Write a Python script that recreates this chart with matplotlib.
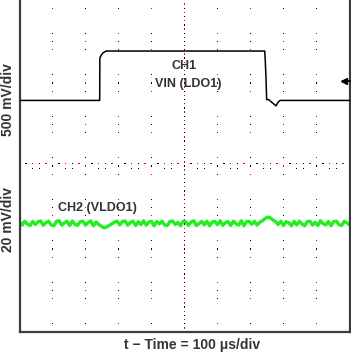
import numpy as np
import matplotlib
matplotlib.use("Agg")
import matplotlib.pyplot as plt

plt.rcParams['font.family'] = ['Liberation Sans', 'DejaVu Sans']

# scope settings: 10 x 8 divisions
t_per_div = 100.0        # us/div
ch1_per_div = 500.0      # mV/div
ch2_per_div = 20.0       # mV/div

# CH1 (VIN) trace, time in us, level in divisions on screen
ch1_t = [0, 243, 243.5, 247, 252, 262, 743, 745, 747, 749, 755, 765, 770, 777, 785, 790, 1000]
ch1_div = [1.58, 1.58, 2.60, 2.66, 2.72, 2.77, 2.77, 2.50, 2.10, 1.60, 1.60, 1.53, 1.50, 1.45, 1.55, 1.58, 1.58]

# CH2 (VLDO1) ripple in mV around its screen level, one sample every 8 us
ch2_level = -1.38
ch2_step = 8
ch2_mv = [0.8, -0.9, 1.0, -0.4, -1.1, 0.9, -0.6, 0.7, 1.1, -1.0,
          0.3, 1.0, -0.8, -1.2, 0.9, 1.2, -0.9, 0.2, 1.0, -1.1,
          1.1, -0.5, -1.0, 0.8, 1.0, -0.9, 0.4, 1.1, -1.2, 0.6,
          -0.6, -1.4, -2.2, -1.8, -1.0, -0.3, 0.6, 1.0, -0.8, 0.9,
          1.1, -0.9, 0.4, 1.0, -1.1, 0.8, -0.7, 1.2, -0.9, 0.6,
          0.9, -1.2, 0.8, -0.3, 1.0, -0.9, -1.1, 0.9, 1.1, -0.6,
          0.4, -1.2, 1.0, 0.7, -1.0, 0.6, 1.2, -1.1, -0.2, 0.9,
          -0.8, 1.0, -1.2, 0.6, 0.9, -0.7, 1.2, -1.0, 0.3, 0.8,
          -1.1, 1.0, -0.2, -0.9, 1.2, -1.2, 0.8, 0.9, -0.5, 1.0,
          -0.9, 0.5, 1.2, 2.2, 3.0, 2.6, 1.6, 0.8, -0.6, 1.0,
          -1.1, 0.8, 0.3, -1.2, 0.9, -0.8, 1.0, -0.4, -1.2, 0.8,
          1.0, -0.9, 0.5, -1.1, 1.2, -0.2, -0.8, 0.9, -1.2, 0.8,
          1.0, -0.6, -1.1, 0.9, 0.3, -0.8]

ch1_marker = 2.05   # channel marker on right edge (div)

fig = plt.figure(figsize=(3.51, 3.54), dpi=100)
ax = fig.add_axes([19.5 / 351, 22 / 354, 330 / 351, 332 / 354])
ax.set_xlim(0, 10)
ax.set_ylim(-4, 4)
ax.set_xticks([])
ax.set_yticks([])
for s in ['left', 'bottom', 'right']:
    ax.spines[s].set_color('#3c3c3c')
    ax.spines[s].set_linewidth(1.6)
ax.spines['top'].set_visible(False)

# graticule dots
gx, gy, gc = [], [], []
n = 0
for k in range(1, 10):
    for j in range(-4, 5):
        for dy in (-0.2, 0.0, 0.2):
            y = j + dy
            if abs(y) >= 3.95 or (dy == 0 and abs(j) == 4):
                continue
            gx.append(k); gy.append(y)
            gc.append('#ff0000' if n % 3 == 1 else 'black'); n += 1
# center vertical line
for y in np.arange(-3.9, 3.95, 0.1):
    gx.append(5); gy.append(y)
    gc.append('#ff0000' if n % 2 else 'black'); n += 1
# center horizontal line
for k in range(10):
    for f in (0.2, 0.4, 0.6, 0.8):
        dys = (-0.06, 0.06) if f in (0.4, 0.6) else (0.06,)
        for dy in dys:
            gx.append(k + f); gy.append(dy)
            gc.append('#ff0000' if n % 3 == 0 else 'black'); n += 1
ax.scatter(gx, gy, s=1.0, c=gc, marker='s', linewidths=0, zorder=1)

# traces
t1 = np.array(ch1_t) / t_per_div
ax.plot(t1, ch1_div, color='black', lw=1.1, zorder=3)

t2 = np.arange(len(ch2_mv)) * ch2_step / t_per_div
y2 = ch2_level + np.array(ch2_mv) / ch2_per_div
ax.plot(t2, y2, color='#22ee22', lw=2.4, zorder=2)

# channel marker
ax.plot([9.8, 10], [ch1_marker, ch1_marker], color='black', lw=1.2, zorder=3, clip_on=False)
ax.plot([9.82], [ch1_marker], marker='<', ms=5, color='black', zorder=3)

tc = '#333333'
ax.text(5.0, 2.41, 'CH1', ha='center', va='center', fontsize=9, fontweight='bold', color=tc)
ax.text(5.1, 1.98, 'VIN (LDO1)', ha='center', va='center', fontsize=9, fontweight='bold', color=tc)
ax.text(1.18, -1.01, 'CH2 (VLDO1)', ha='left', va='center', fontsize=9, fontweight='bold', color=tc)

fig.text(8 / 351, 1 - 100 / 354, '500 mV/div', rotation=90, ha='center', va='center',
         fontsize=10, fontweight='bold', color=tc)
fig.text(8 / 351, 1 - 219 / 354, '20 mV/div', rotation=90, ha='center', va='center',
         fontsize=10, fontweight='bold', color=tc)
fig.text(192 / 351, 1 - 345 / 354, 't \u2212 Time = 100 \u03bcs/div', ha='center', va='center',
         fontsize=10, fontweight='bold', color=tc)

fig.savefig('out.png', dpi=100)
